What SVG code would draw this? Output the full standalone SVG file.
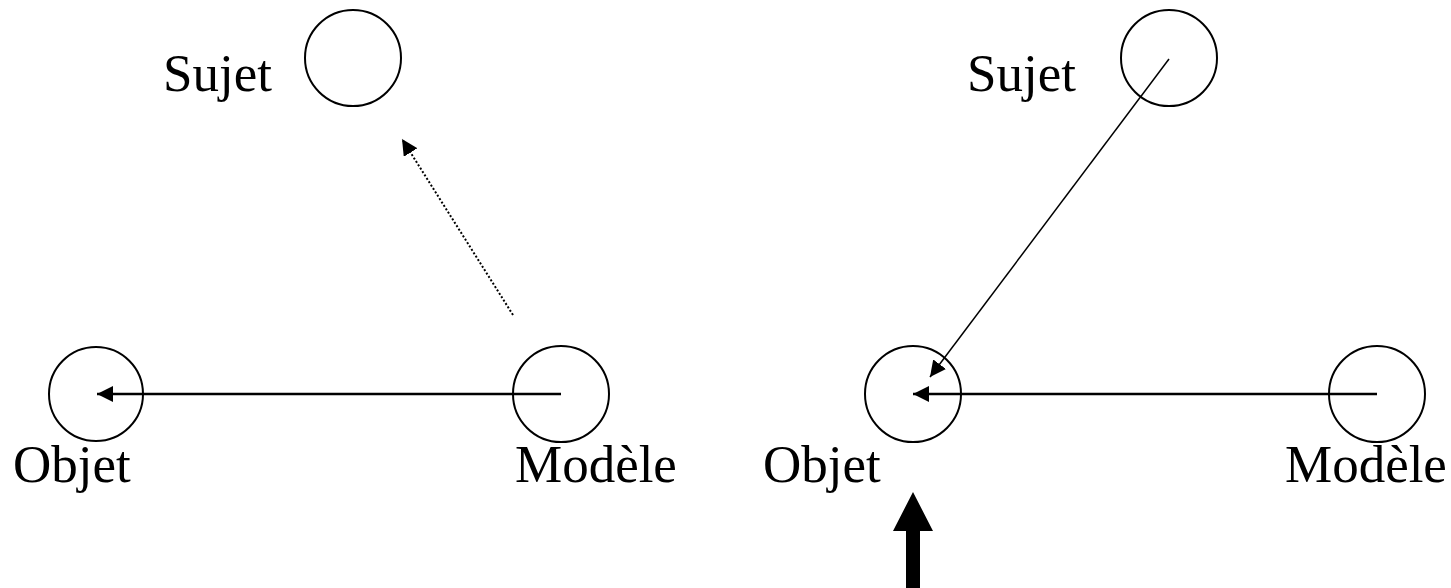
<svg xmlns="http://www.w3.org/2000/svg" width="1451" height="588" viewBox="0 0 1451 588">
<style>
.n{fill:none;stroke:#000;stroke-width:2}
.t{font-family:"Liberation Serif","Times New Roman",serif;font-size:53px;fill:#000}
.c{fill:none;stroke:#000}
</style>
<defs>
<marker id="ah" markerUnits="userSpaceOnUse" markerWidth="20" markerHeight="16" refX="16" refY="8" orient="auto">
<path d="M0,0 L16,8 L0,16 Z" fill="#000"/>
</marker>
</defs>
<rect width="1451" height="588" fill="#fff"/>
<g id="sujet1"><circle class="n" cx="353" cy="58" r="48"/><text class="t" x="163" y="91">Sujet</text></g>
<g id="objet1"><circle class="n" cx="96" cy="394" r="47"/><text class="t" x="13" y="482">Objet</text></g>
<g id="modele1"><circle class="n" cx="561" cy="394" r="48"/><text class="t" x="515" y="482">Modèle</text></g>
<g id="sujet2"><circle class="n" cx="1169" cy="58" r="48"/><text class="t" x="967" y="91">Sujet</text></g>
<g id="objet2"><circle class="n" cx="913" cy="394" r="48"/><text class="t" x="763" y="482">Objet</text></g>
<g id="modele2"><circle class="n" cx="1377" cy="394" r="48"/><text class="t" x="1285" y="482">Modèle</text></g>
<g id="connectors">
<line class="c" x1="561" y1="394" x2="97" y2="394" stroke-width="2.5" marker-end="url(#ah)"/>
<line class="c" x1="513" y1="315" x2="402" y2="139" stroke-width="2" stroke-dasharray="2,2" marker-end="url(#ah)"/>
<line class="c" x1="1377" y1="394" x2="913" y2="394" stroke-width="2.5" marker-end="url(#ah)"/>
<line class="c" x1="1169" y1="59" x2="930" y2="377" stroke-width="1.5" marker-end="url(#ah)"/>
<path d="M913,492 L933,531 L920,531 L920,588 L906,588 L906,531 L893,531 Z" fill="#000"/>
</g>
</svg>
